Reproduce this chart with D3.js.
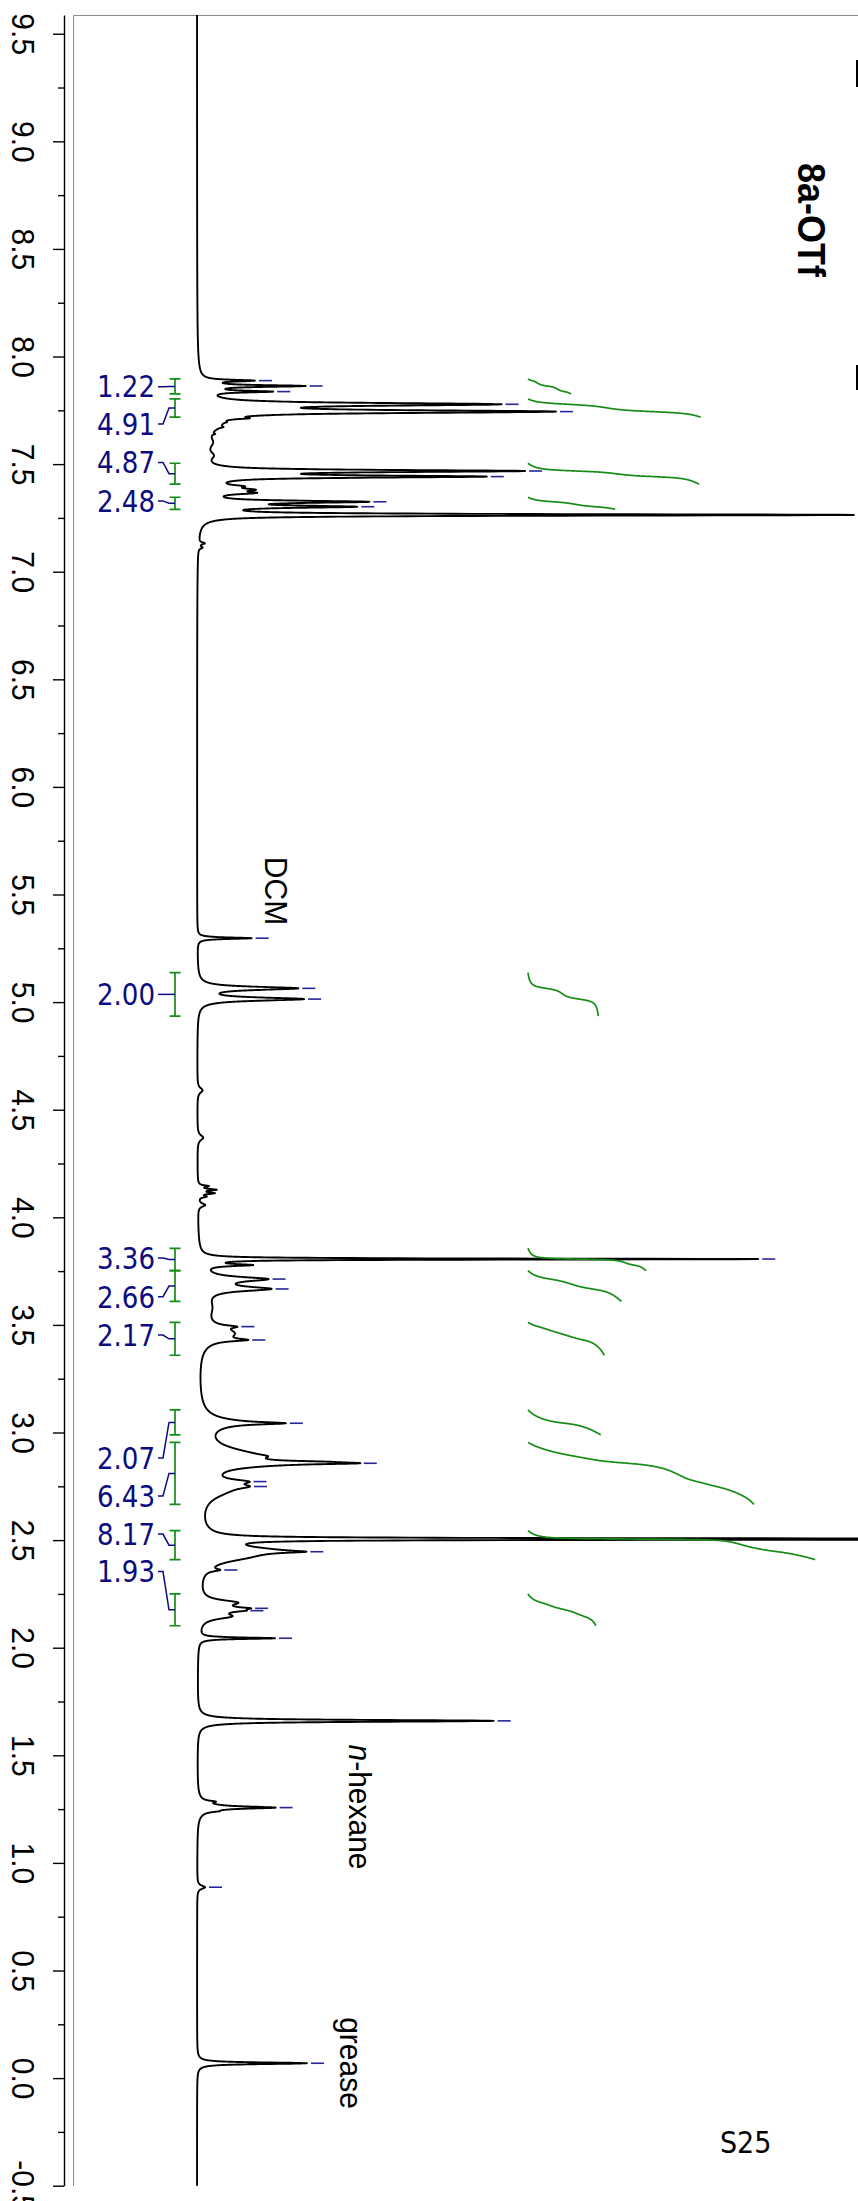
<!DOCTYPE html>
<html>
<head>
<meta charset="utf-8">
<script src="https://cdn.jsdelivr.net/npm/d3@7"></script>
<style>
  html, body { margin: 0; padding: 0; background: #fff; }
  svg { display: block; }
</style>
</head>
<body>
<svg id="chart" width="858" height="2201"></svg>
<script>
// ---------------- data ----------------
// chemical-shift window (ppm) and axis ticks
const shiftDomain = [9.587, -0.5];
const majorTicks = [9.5, 9.0, 8.5, 8.0, 7.5, 7.0, 6.5, 6.0, 5.5, 5.0, 4.5, 4.0, 3.5, 3.0, 2.5, 2.0, 1.5, 1.0, 0.5, 0.0, -0.5];
const minorTicks = [9.25, 8.75, 8.25, 7.75, 7.25, 6.75, 6.25, 5.75, 5.25, 4.75, 4.25, 3.75, 3.25, 2.75, 2.25, 1.75, 1.25, 0.75, 0.25, -0.25];

// resolved lines of the 1H spectrum: shift (ppm), height (CDCl3 = 100), half-width (ppm)
const peakShift = [7.888, 7.863, 7.837, 7.865, 7.778, 7.744, 7.713, 7.680, 7.600, 7.540, 7.695, 7.672, 7.640,
  7.468, 7.442, 7.397, 7.381, 7.366, 7.390, 7.325, 7.302, 7.264, 7.132, 7.112,
  5.297, 5.064, 5.014, 4.590, 4.370, 4.145, 4.128, 4.112, 4.096, 4.057,
  3.806, 3.778, 3.713, 3.667, 3.690, 3.580, 3.492, 3.430, 3.460, 3.043, 3.046, 3.040,
  2.895, 2.890, 2.864, 2.857, 2.850, 2.772, 2.749, 2.730, 2.505, 2.505, 2.446, 2.452, 2.420, 2.361,
  2.210, 2.178, 2.145, 2.183, 2.172, 2.044, 1.660, 1.257, 1.260, 1.285, 1.240, 0.887, 0.069];
const peakHeight = [7.3, 14.5, 9.5, 0.9, 43.6, 52.0, 3.1, 2.3, 1.4, 1.4, 0.6, 0.6, 0.5,
  47.4, 41.0, 3.1, 4.6, 5.8, 1.8, 23.7, 21.3, 99.4, 0.9, 0.6,
  8.3, 15.0, 15.9, 0.8, 0.9, 1.5, 2.6, 2.3, 1.1, 1.1,
  85.0, 6.9, 8.6, 8.9, 1.8, 1.4, 2.6, 4.4, 5.0, 7.6, 3.8, 1.5,
  6.9, 1.8, 6.4, 13.0, 5.4, 4.3, 3.4, 3.4, 305.8, 0.9, 5.4, 8.4, 4.6, 1.8,
  4.6, 4.6, 3.8, 2.1, 1.5, 11.6, 45.3, 9.8, 2.1, 1.5, 1.2, 1.2, 16.8];
const peakWidth = [0.0046, 0.0046, 0.0046, 0.0279, 0.0074, 0.0074, 0.0046, 0.0372, 0.0325, 0.0232, 0.0037, 0.0037, 0.0037,
  0.0059, 0.0059, 0.0070, 0.0070, 0.0070, 0.0279, 0.0060, 0.0060, 0.0042, 0.0056, 0.0056,
  0.0042, 0.0088, 0.0088, 0.0139, 0.0139, 0.0046, 0.0046, 0.0046, 0.0046, 0.0093,
  0.0028, 0.0056, 0.0116, 0.0116, 0.0372, 0.0558, 0.0070, 0.0070, 0.0372, 0.0060, 0.0209, 0.0558,
  0.0418, 0.0093, 0.0056, 0.0056, 0.0186, 0.0116, 0.0116, 0.0418, 0.0021, 0.0465, 0.0056, 0.0232, 0.0279, 0.0070,
  0.0139, 0.0186, 0.0139, 0.0046, 0.0046, 0.0042, 0.0051, 0.0056, 0.0232, 0.0046, 0.0046, 0.0093, 0.0046];

// peak-picked positions (ppm)
const pickShift = [7.888, 7.863, 7.837, 7.778, 7.744, 7.468, 7.442, 7.325, 7.302, 5.297, 5.064, 5.014,
  3.806, 3.713, 3.667, 3.492, 3.430, 3.043, 2.857, 2.772, 2.749, 2.446, 2.361, 2.183, 2.172, 2.044,
  1.660, 1.257, 0.887, 0.069];

// integration regions (ppm) and their integrals
const integralFrom  = [7.896, 7.803, 7.504, 7.346, 5.137, 3.856, 3.752, 3.512, 3.105, 2.954, 2.544, 2.250];
const integralTo    = [7.826, 7.718, 7.407, 7.290, 4.935, 3.752, 3.609, 3.359, 2.989, 2.666, 2.409, 2.102];
const integralValue = [1.22, 4.91, 4.87, 2.48, 2.00, 3.36, 2.66, 2.17, 2.07, 6.43, 8.17, 1.93];

// ---------------- layout ----------------
// where each integral label sits along the shift axis (spread so labels do not collide)
const integralLabelAt = [7.860, 7.686, 7.508, 7.329, 5.036, 3.811, 3.631, 3.453, 2.882, 2.705, 2.528, 2.354];

const FONT = "'Liberation Sans', Arial, Helvetica, sans-serif";
const LABEL_FONT = "'DejaVu Sans', Verdana, sans-serif";
const NAVY = "#0c0c80";
const PICK = "#26269a";
const GREEN = "#178c17";

const svg = d3.select("#chart");

// shift runs top -> bottom, intensity runs left -> right
const y = d3.scaleLinear().domain(shiftDomain).range([15, 2185.7]);
const x = d3.scaleLinear().domain([0, 100]).range([197, 851]);
const xInt = d3.scaleLinear().domain([0, 1]).range([528, 563.15]);

function intensity(p) {
  let s = 0;
  for (let i = 0; i < peakShift.length; i++) {
    const d = (p - peakShift[i]) / peakWidth[i];
    s += peakHeight[i] / (1 + d * d);
  }
  return s;
}

// page frame
svg.append("path")
  .attr("d", "M73.5,2186V15.5H858")
  .attr("fill", "none")
  .attr("stroke", "#8c8c8c")
  .attr("stroke-width", 1);

// shift axis
const gMajor = svg.append("g")
  .attr("transform", "translate(64,0)")
  .call(d3.axisLeft(y).tickValues(majorTicks).tickSize(11).tickSizeOuter(0)
    .tickFormat(d => d.toFixed(1)));
gMajor.attr("font-size", 30).attr("font-family", FONT);
gMajor.select(".domain").attr("stroke", "#000").attr("stroke-width", 1.4);
gMajor.selectAll(".tick line").attr("stroke", "#000").attr("stroke-width", 1.4);
gMajor.selectAll(".tick text")
  .attr("x", null).attr("dy", null)
  .attr("fill", "#000")
  .attr("text-anchor", "middle")
  .attr("transform", "translate(-52,0) rotate(90) scale(1,1.06)");

const gMinor = svg.append("g")
  .attr("transform", "translate(64,0)")
  .call(d3.axisLeft(y).tickValues(minorTicks).tickSize(6).tickSizeOuter(0).tickFormat(""));
gMinor.select(".domain").remove();
gMinor.selectAll(".tick line").attr("stroke", "#000").attr("stroke-width", 1.4);

// spectrum trace
const grid = [];
for (let p = shiftDomain[0]; p >= shiftDomain[1]; p -= 0.0004) grid.push(p);
peakShift.forEach(p => grid.push(p));
grid.sort((a, b) => b - a);
const trace = grid.map(p => [p, intensity(p)]);

svg.append("path")
  .datum(trace)
  .attr("fill", "none")
  .attr("stroke", "#000")
  .attr("stroke-width", 1.9)
  .attr("stroke-linejoin", "round")
  .attr("d", d3.line().x(d => x(d[1])).y(d => y(d[0])));

// peak-pick marks
svg.append("g").selectAll("line")
  .data(pickShift)
  .join("line")
  .attr("x1", p => x(intensity(p)) + 4)
  .attr("x2", p => x(intensity(p)) + 17)
  .attr("y1", p => y(p))
  .attr("y2", p => y(p))
  .attr("stroke", PICK)
  .attr("stroke-width", 1.6);

// integrals: bracket, label, connector and running-integral curve
const gInt = svg.append("g");
integralValue.forEach((v, i) => {
  const a = integralFrom[i], b = integralTo[i];
  const yTop = y(a), yBot = y(b);
  const yMid = y((a + b) / 2);
  const yLab = y(integralLabelAt[i]);

  gInt.append("path")
    .attr("d", `M169.5,${yTop}H180.5M175,${yTop}V${yBot}M169.5,${yBot}H180.5`)
    .attr("fill", "none")
    .attr("stroke", GREEN)
    .attr("stroke-width", 1.7);

  gInt.append("path")
    .attr("d", d3.line()([[158, yLab], [163, yLab], [169, yMid], [175, yMid]]))
    .attr("fill", "none")
    .attr("stroke", NAVY)
    .attr("stroke-width", 1.5);

  gInt.append("text")
    .attr("transform", `translate(155,${yLab}) scale(0.87,1)`)
    .attr("dy", "0.36em")
    .attr("text-anchor", "end")
    .attr("font-family", LABEL_FONT)
    .attr("font-size", 30)
    .attr("fill", NAVY)
    .text(v.toFixed(2));

  // cumulative integral of the trace over the region, scaled to the stated value
  const n = 400;
  let prev = intensity(a), cum = 0;
  const pts = [[a, 0]];
  for (let k = 1; k <= n; k++) {
    const p = a + (b - a) * k / n;
    const val = intensity(p);
    cum += (prev + val) / 2;
    prev = val;
    pts.push([p, cum]);
  }
  pts.forEach(q => { q[1] = q[1] / cum * v; });

  gInt.append("path")
    .datum(pts)
    .attr("fill", "none")
    .attr("stroke", GREEN)
    .attr("stroke-width", 1.7)
    .attr("d", d3.line().x(d => xInt(d[1])).y(d => y(d[0])));
});

// rotated annotations
function rotatedLabel(text, bx, cy, size, weight) {
  return svg.append("text")
    .attr("transform", `translate(${bx},${cy}) rotate(90) scale(1,1.06)`)
    .attr("text-anchor", "middle")
    .attr("font-family", FONT)
    .attr("font-size", size)
    .attr("font-weight", weight || "normal")
    .attr("fill", "#000")
    .text(text);
}
rotatedLabel("DCM", 265, 891, 30);
const hex = rotatedLabel("", 349, 1807, 30);
hex.append("tspan").attr("font-style", "italic").text("n");
hex.append("tspan").text("-hexane");
rotatedLabel("grease", 340, 2063, 30);
rotatedLabel("8a-OTf", 798, 220, 36, "bold");

// spectrum number
svg.append("text")
  .attr("transform", "translate(720,2153) scale(0.9,1)")
  .attr("font-family", LABEL_FONT)
  .attr("font-size", 30)
  .attr("fill", "#000")
  .text("S25");

// fragments of artwork cut by the page edge
svg.append("rect").attr("x", 856).attr("y", 60).attr("width", 2).attr("height", 27).attr("fill", "#000");
svg.append("rect").attr("x", 856).attr("y", 365).attr("width", 2).attr("height", 25).attr("fill", "#000");
</script>
</body>
</html>
